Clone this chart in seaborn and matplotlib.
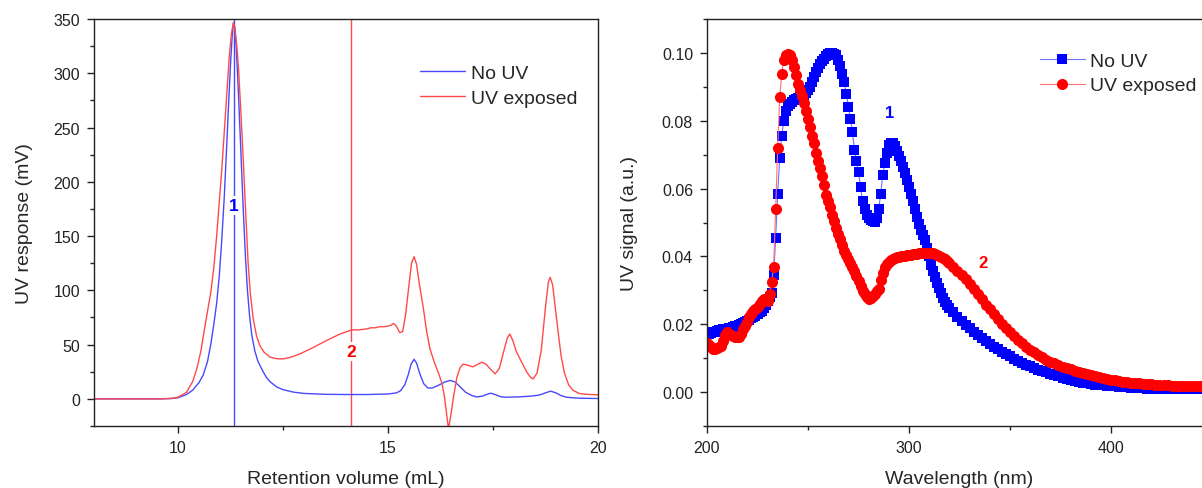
import numpy as np
import pandas as pd
import seaborn as sns
import matplotlib.pyplot as plt
from matplotlib.ticker import MultipleLocator, FormatStrFormatter

# --- left panel: SEC chromatograms (retention volume, mV) ---
vol_no_uv = [8.0, 9.0, 9.6, 9.85, 10.0, 10.2, 10.35, 10.5, 10.6, 10.7, 10.78, 10.85,
             10.92, 10.98, 11.04, 11.1, 11.15, 11.2, 11.25, 11.29, 11.32, 11.35, 11.38,
             11.42, 11.46, 11.5, 11.55, 11.6, 11.65, 11.7, 11.76, 11.83, 11.9, 12.0,
             12.1, 12.2, 12.35, 12.5, 12.75, 13.0, 13.5, 14.0, 14.5, 15.0, 15.2,
             15.3, 15.4, 15.48, 15.55, 15.62, 15.68, 15.75, 15.85, 15.95, 16.05, 16.2,
             16.35, 16.48, 16.6, 16.72, 16.85, 17.0, 17.11, 17.25, 17.38, 17.45, 17.55,
             17.68, 17.8, 18.1, 18.4, 18.6, 18.75, 18.87, 19.0, 19.12, 19.25, 19.5,
             20.0]
uv_no_uv = [0, 0, 0, 0.3, 1, 4, 8, 15, 22, 34, 50, 68,
            88, 112, 145, 185, 225, 268, 308, 334, 346, 343, 328,
            298, 262, 225, 178, 135, 102, 78, 58, 44, 35, 27,
            20, 15.5, 11, 8.5, 6.2, 5, 4.2, 4, 4, 4.5, 5.5,
            7.5, 13, 22, 32, 36.5, 33, 24, 14, 10, 10, 12.5,
            15.5, 17, 15.5, 11, 6, 3, 1.8, 2.5, 4.5, 5.2, 4,
            2, 1.5, 1.8, 2.5, 3.5, 5.5, 7.1, 5.5, 3, 1.5, 0.7,
            0.3]

vol_uv = [8.0, 9.0, 9.6, 9.85, 10.0, 10.2, 10.35, 10.45, 10.55, 10.62, 10.7, 10.78,
          10.85, 10.92, 10.98, 11.04, 11.1, 11.16, 11.22, 11.27, 11.32, 11.36, 11.4,
          11.44, 11.5, 11.56, 11.62, 11.67, 11.72, 11.79, 11.87, 11.95, 12.05, 12.19,
          12.35, 12.5, 12.7, 12.9, 13.15, 13.38, 13.6, 13.86, 14.13, 14.3, 14.5,
          14.6, 14.7, 14.8, 14.9, 15.0, 15.08, 15.13, 15.2, 15.28, 15.35, 15.42,
          15.5, 15.56, 15.62, 15.68, 15.75, 15.84, 15.92, 16.0, 16.1, 16.2, 16.28,
          16.34, 16.39, 16.44, 16.5, 16.56, 16.64, 16.72, 16.79, 16.9, 17.02, 17.12,
          17.23, 17.33, 17.45, 17.55, 17.65, 17.75, 17.84, 17.9, 17.97, 18.05, 18.18,
          18.3, 18.4, 18.46, 18.55, 18.65, 18.75, 18.82, 18.86, 18.92, 18.98, 19.05,
          19.12, 19.2, 19.3, 19.4, 19.55, 19.7, 20.0]
uv_uv = [0, 0, 0, 0.5, 1.5, 6, 16, 28, 45, 62, 80, 98,
         120, 150, 180, 210, 245, 280, 315, 336, 347, 340, 325,
         305, 262, 215, 165, 125, 98, 74, 58, 49, 43, 38.5,
         37, 36.8, 38.5, 41.4, 46, 50.6, 55, 59.8, 63.5, 63.5, 64.5,
         65.5, 65.5, 66.5, 66.5, 67, 68, 69.5, 67, 61, 62, 78,
         105, 125, 131, 124, 105, 84, 62, 46, 34, 24, 15,
         3, -12, -28, -14, 2, 20, 29, 32, 31, 29.5, 31.5,
         33.8, 32, 27, 23, 28, 43, 56, 59.8, 54, 44, 34,
         25, 19.5, 18.4, 24, 45, 85, 108, 112, 105, 85, 62,
         40, 24, 13, 8, 5, 4.2, 3.7]

peak1_vol, peak1_label_y = 11.33, 178
peak2_vol, peak2_label_y = 14.13, 44

# --- right panel: UV spectra (wavelength, a.u.) ---
wl_fine = list(range(200, 321))
wl_tail = list(range(322, 451, 2))

sig_no_uv_fine = [
    .0170, .0172, .0174, .0176, .0178, .0180, .0182, .0184, .0185, .0186,
    .0187, .0188, .0190, .0192, .0194, .0196, .0199, .0202, .0205, .0208,
    .0210, .0213, .0217, .0221, .0225, .0230, .0235, .0239, .0248, .0258,
    .0268, .0280, .0293, .0345, .0455, .0585, .0690, .0755, .0800, .0830,
    .0843, .0850, .0856, .0861, .0865, .0868, .0871, .0874, .0877, .0883,
    .0890, .0899, .0914, .0929, .0943, .0955, .0966, .0975, .0983, .0990,
    .0996, .0999, .1000, .0998, .0993, .0980, .0960, .0938, .0913, .0878,
    .0842, .0805, .0767, .0715, .0680, .0648, .0604, .0564, .0540, .0522,
    .0513, .0507, .0503, .0502, .0514, .0540, .0585, .0640, .0675, .0705,
    .0728, .0734, .0733, .0726, .0712, .0697, .0680, .0663, .0646, .0626,
    .0605, .0584, .0562, .0540, .0517, .0495, .0478, .0463, .0447, .0425,
    .0400, .0376, .0356, .0339, .0323, .0308, .0291, .0276, .0265, .0256,
    .0248]
sig_no_uv_tail = [
    .0235, .0222, .0210, .0199, .0188, .0178, .0168, .0159, .0150, .0142,
    .0134, .0126, .0119, .0112, .0105, .0099, .0093, .0087, .0081, .0076,
    .0071, .0066, .0062, .0058, .0054, .0050, .0046, .0042, .0039, .0036,
    .0033, .0030, .0028, .0026, .0024, .0022, .0021, .0020, .0019, .0018,
    .0017, .0016, .0015, .0014, .0013, .0012, .0011, .0011, .0010, .0010,
    .0009, .0009, .0009, .0009, .0009, .0009, .0009, .0009, .0009, .0009,
    .0009, .0009, .0009, .0009, .0009]

sig_uv_fine = [
    .0146, .0140, .0133, .0126, .0128, .0131, .0134, .0136, .0150, .0168,
    .0176, .0172, .0168, .0166, .0163, .0161, .0161, .0172, .0185, .0195,
    .0208, .0222, .0230, .0238, .0246, .0252, .0260, .0268, .0274, .0272,
    .0269, .0290, .0325, .0370, .0540, .0720, .0870, .0938, .0980, .0995,
    .0998, .0993, .0980, .0958, .0935, .0908, .0890, .0872, .0851, .0828,
    .0804, .0782, .0755, .0733, .0705, .0682, .0660, .0636, .0612, .0582,
    .0563, .0546, .0523, .0503, .0484, .0466, .0450, .0433, .0417, .0403,
    .0392, .0381, .0368, .0357, .0343, .0328, .0314, .0298, .0288, .0280,
    .0275, .0276, .0284, .0290, .0298, .0305, .0330, .0352, .0368, .0378,
    .0385, .0389, .0392, .0395, .0397, .0399, .0400, .0401, .0402, .0403,
    .0404, .0405, .0406, .0407, .0408, .0409, .0410, .0410, .0411, .0411,
    .0411, .0410, .0409, .0407, .0405, .0402, .0399, .0395, .0391, .0386,
    .0381]
sig_uv_tail = [
    .0370, .0358, .0346, .0333, .0318, .0303, .0288, .0273, .0258, .0244,
    .0229, .0215, .0201, .0188, .0176, .0165, .0154, .0144, .0134, .0125,
    .0117, .0109, .0102, .0096, .0090, .0085, .0080, .0075, .0071, .0067,
    .0063, .0060, .0056, .0053, .0050, .0047, .0044, .0041, .0039, .0037,
    .0035, .0033, .0031, .0030, .0028, .0027, .0026, .0025, .0024, .0023,
    .0022, .0021, .0020, .0020, .0019, .0019, .0018, .0018, .0018, .0017,
    .0017, .0017, .0016, .0016, .0016]

label1_xy = (290.5, 0.0823)
label2_xy = (336.5, 0.0381)

sns.set_style('ticks')
plt.rcParams['font.family'] = ['Liberation Sans', 'DejaVu Sans']
plt.rcParams['axes.linewidth'] = 1.0
plt.rcParams['xtick.color'] = '#222222'
plt.rcParams['ytick.color'] = '#222222'

fig = plt.figure(figsize=(12.02, 4.89), dpi=100)
W, H = 1202, 489
ax1 = fig.add_axes([94 / W, 62 / H, 504 / W, 407 / H])
ax2 = fig.add_axes([707 / W, 62 / H, 505 / W, 407 / H])

# left panel
chrom = pd.concat([
    pd.DataFrame({'vol': vol_no_uv, 'uv': uv_no_uv, 'sample': 'No UV'}),
    pd.DataFrame({'vol': vol_uv, 'uv': uv_uv, 'sample': 'UV exposed'}),
])
sns.lineplot(data=chrom, x='vol', y='uv', hue='sample', sort=False, estimator=None,
             palette={'No UV': '#4848ff', 'UV exposed': '#ff4a4a'},
             linewidth=1.0, ax=ax1)
ax1.axvline(peak1_vol, color='#4848ff', lw=1.0, zorder=1)
ax1.axvline(peak2_vol, color='#ff4a4a', lw=1.0, zorder=1)
ax1.text(peak1_vol, peak1_label_y, '1', color='blue', fontsize=12.5, fontweight='bold',
         ha='center', va='center', bbox=dict(fc='white', ec='none', pad=1.5))
ax1.text(peak2_vol, peak2_label_y, '2', color='red', fontsize=12.5, fontweight='bold',
         ha='center', va='center', bbox=dict(fc='white', ec='none', pad=1.5))
ax1.set_xlim(8, 20)
ax1.set_ylim(-25, 350)
ax1.xaxis.set_major_locator(MultipleLocator(5))
ax1.xaxis.set_minor_locator(MultipleLocator(2.5))
ax1.yaxis.set_major_locator(MultipleLocator(50))
ax1.yaxis.set_minor_locator(MultipleLocator(25))
ax1.set_xlabel('Retention volume (mL)', fontsize=14, labelpad=11)
ax1.set_ylabel('UV response (mV)', fontsize=14, labelpad=15)
ax1.legend(loc='upper left', bbox_to_anchor=(0.647, 0.888), frameon=False,
           fontsize=14, handlelength=2.3, handletextpad=0.3, borderpad=0,
           borderaxespad=0, labelspacing=0.35)

# right panel
spec = pd.concat([
    pd.DataFrame({'wl': wl_fine + wl_tail, 'sig': sig_no_uv_fine + sig_no_uv_tail,
                  'sample': 'No UV'}),
    pd.DataFrame({'wl': wl_fine + wl_tail, 'sig': sig_uv_fine + sig_uv_tail,
                  'sample': 'UV exposed'}),
])
sns.lineplot(data=spec[spec['sample'] == 'No UV'], x='wl', y='sig', color='#7070ff',
             marker='s', markersize=6.5, markerfacecolor='blue', markeredgecolor='blue',
             markeredgewidth=0, linewidth=0.8, sort=False, estimator=None,
             label='No UV', ax=ax2)
sns.lineplot(data=spec[spec['sample'] == 'UV exposed'], x='wl', y='sig', color='#ff7070',
             marker='o', markersize=8, markerfacecolor='red', markeredgecolor='red',
             markeredgewidth=0, linewidth=0.8, sort=False, estimator=None,
             label='UV exposed', ax=ax2)
ax2.text(*label1_xy, '1', color='blue', fontsize=12, fontweight='bold', ha='center', va='center')
ax2.text(*label2_xy, '2', color='red', fontsize=12, fontweight='bold', ha='center', va='center')
ax2.set_xlim(200, 450)
ax2.set_ylim(-0.01, 0.11)
ax2.xaxis.set_major_locator(MultipleLocator(100))
ax2.xaxis.set_minor_locator(MultipleLocator(50))
ax2.yaxis.set_major_locator(MultipleLocator(0.02))
ax2.yaxis.set_minor_locator(MultipleLocator(0.01))
ax2.yaxis.set_major_formatter(FormatStrFormatter('%.2f'))
ax2.set_xlabel('Wavelength (nm)', fontsize=14, labelpad=11)
ax2.set_ylabel('UV signal (a.u.)', fontsize=14, labelpad=17)
ax2.legend(loc='upper left', bbox_to_anchor=(0.659, 0.918), frameon=False,
           fontsize=14, handlelength=2.3, handletextpad=0.3, borderpad=0,
           borderaxespad=0, labelspacing=0.35, numpoints=1)

for ax in (ax1, ax2):
    ax.tick_params(which='major', direction='out', length=5, width=1, labelsize=11.5, pad=5)
    ax.tick_params(which='minor', direction='out', length=3, width=1)
    for s in ax.spines.values():
        s.set_color('#222222')

fig.savefig('out.png', dpi=100)
